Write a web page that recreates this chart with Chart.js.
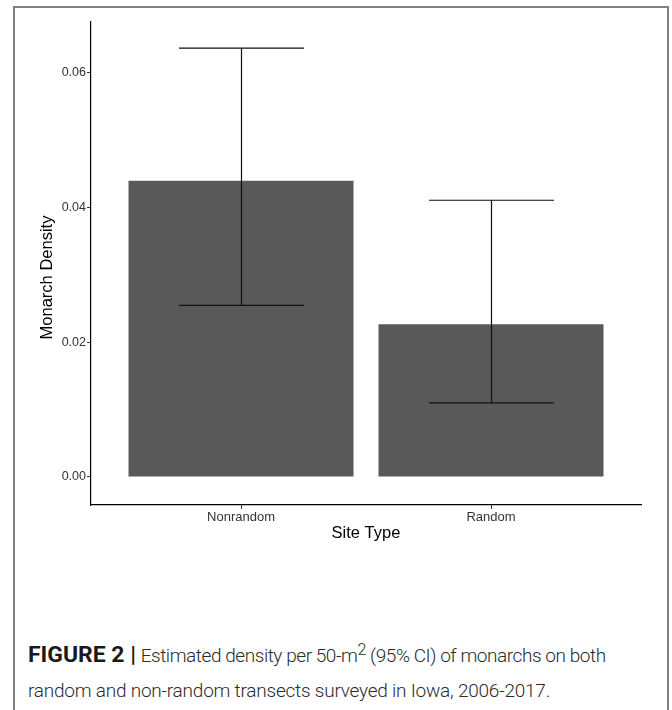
<!DOCTYPE html>
<html>
<head>
<meta charset="utf-8">
<script src="https://cdn.jsdelivr.net/npm/chart.js@4.4.1/dist/chart.umd.min.js"></script>
<style>
    html, body { margin: 0; padding: 0; background: #fff; }
    body { width: 672px; height: 710px; position: relative; overflow: hidden; }
    #frame {
        position: absolute; left: 13px; top: 6px; width: 652px; height: 730px;
        border: 2px solid #808080; border-bottom: none;
    }
    #chartBox { position: absolute; left: 0; top: 0; width: 672px; height: 560px; }
    #caption {
        position: absolute; left: 28px; top: 637px;
        font-family: Roboto, "Liberation Sans", sans-serif; color: #2b2b2b;
        font-size: 19px; font-weight: 300; line-height: 35px; white-space: nowrap;
    }
    #capBold { font-weight: 700; color: #1a1a1a; }
    #caption sup { font-size: 0.85em; line-height: 0; vertical-align: 0.45em; }
</style>
</head>
<body>
<div id="frame"></div>
<div id="chartBox"><canvas id="mainChart" width="672" height="560"></canvas></div>
<div id="caption">
    <div><span id="capBold">FIGURE 2 |</span> <span id="capRest">Estimated density per 50-m<sup>2</sup> (95% CI) of monarchs on both</span></div>
    <div><span id="capLine2">random and non-random transects surveyed in Iowa, 2006-2017.</span></div>
</div>
<script>
const siteTypes = ['Nonrandom', 'Random'];
const densityMean = [0.0440, 0.0227];
const ciLower = [0.0255, 0.0110];
const ciUpper = [0.0637, 0.0411];
const yTicks = [0, 0.02, 0.04, 0.06];
const yLimits = [-0.00416, 0.06757];

const textColor = '#333333';
const barColor = '#595959';

const errorBars = {
    id: 'errorBars',
    afterDatasetsDraw(chart) {
        const ctx = chart.ctx;
        const x = chart.scales.x;
        const y = chart.scales.y;
        const half = x.getPixelForValue(1.25) - x.getPixelForValue(1);
        ctx.save();
        ctx.strokeStyle = '#111111';
        ctx.lineWidth = 1.2;
        siteTypes.forEach((_, i) => {
            const cx = Math.round(x.getPixelForValue(i + 1)) + 0.5;
            const top = y.getPixelForValue(ciUpper[i]);
            const bottom = y.getPixelForValue(ciLower[i]);
            ctx.beginPath();
            ctx.moveTo(cx, top);
            ctx.lineTo(cx, bottom);
            ctx.moveTo(cx - half, top);
            ctx.lineTo(cx + half, top);
            ctx.moveTo(cx - half, bottom);
            ctx.lineTo(cx + half, bottom);
            ctx.stroke();
        });
        ctx.restore();
    }
};

// y title sits a little below the panel middle in the figure
const yTitle = {
    id: 'yTitle',
    afterDraw(chart) {
        const ctx = chart.ctx;
        const area = chart.chartArea;
        ctx.save();
        ctx.translate(47, (area.top + area.bottom) / 2 + 14);
        ctx.rotate(-Math.PI / 2);
        ctx.font = '16.5px "Liberation Sans"';
        ctx.fillStyle = '#000';
        ctx.textAlign = 'center';
        ctx.textBaseline = 'middle';
        ctx.fillText('Monarch Density', 0, 0);
        ctx.restore();
    }
};

// stretch or squeeze a caption piece to the width it has in the figure
function fitSpan(id, target) {
    const el = document.getElementById(id);
    const w = el.getBoundingClientRect().width;
    const n = el.textContent.length;
    el.style.letterSpacing = ((target - w) / n).toFixed(3) + 'px';
}

function fitSize(id, target) {
    const el = document.getElementById(id);
    const w = el.getBoundingClientRect().width;
    el.style.fontSize = (19 * target / w).toFixed(2) + 'px';
}

function fitCaption() {
    fitSize('capBold', 108);
    fitSpan('capRest', 465);
    fitSpan('capLine2', 522);
}

function initializeChart() {
    const ctx = document.getElementById('mainChart').getContext('2d');

    new Chart(ctx, {
        type: 'bar',
        data: {
            datasets: [{
                label: 'Monarch Density',
                data: siteTypes.map((_, i) => ({ x: i + 1, y: densityMean[i] })),
                backgroundColor: barColor,
                borderWidth: 0,
                barPercentage: 0.9,
                categoryPercentage: 1.0
            }]
        },
        options: {
            responsive: false,
            animation: false,
            devicePixelRatio: 1,
            layout: {
                padding: { top: 22, right: 31, bottom: 0, left: 0 }
            },
            plugins: {
                legend: { display: false },
                tooltip: { enabled: false }
            },
            scales: {
                x: {
                    type: 'linear',
                    offset: false,
                    min: 0.4,
                    max: siteTypes.length + 0.6,
                    afterBuildTicks: scale => {
                        scale.ticks = siteTypes.map((_, i) => ({ value: i + 1 }));
                    },
                    afterFit: scale => { scale.height = 55; },
                    grid: {
                        offset: false,
                        drawOnChartArea: false,
                        drawTicks: true,
                        tickLength: 4,
                        tickColor: textColor,
                        tickWidth: 1
                    },
                    border: { display: true, color: '#000', width: 1.2 },
                    ticks: {
                        color: textColor,
                        padding: 1,
                        maxRotation: 0,
                        font: { family: 'Liberation Sans', size: 13 },
                        callback: value => siteTypes[Math.round(value) - 1] || ''
                    },
                    title: {
                        display: true,
                        text: 'Site Type',
                        color: '#000',
                        padding: { top: 0, bottom: 17 },
                        font: { family: 'Liberation Sans', size: 16.5 }
                    }
                },
                y: {
                    type: 'linear',
                    min: yLimits[0],
                    max: yLimits[1],
                    afterBuildTicks: scale => {
                        scale.ticks = yTicks.map(v => ({ value: v }));
                    },
                    afterFit: scale => { scale.width = 91; },
                    grid: {
                        drawOnChartArea: false,
                        drawTicks: true,
                        tickLength: 4,
                        tickColor: textColor,
                        tickWidth: 1
                    },
                    border: { display: true, color: '#000', width: 1.2 },
                    ticks: {
                        color: textColor,
                        padding: 1,
                        font: { family: 'Liberation Sans', size: 12.5 },
                        callback: value => value.toFixed(2)
                    },
                    title: { display: false }
                }
            }
        },
        plugins: [errorBars, yTitle]
    });
}

fitCaption();
initializeChart();
</script>
</body>
</html>
